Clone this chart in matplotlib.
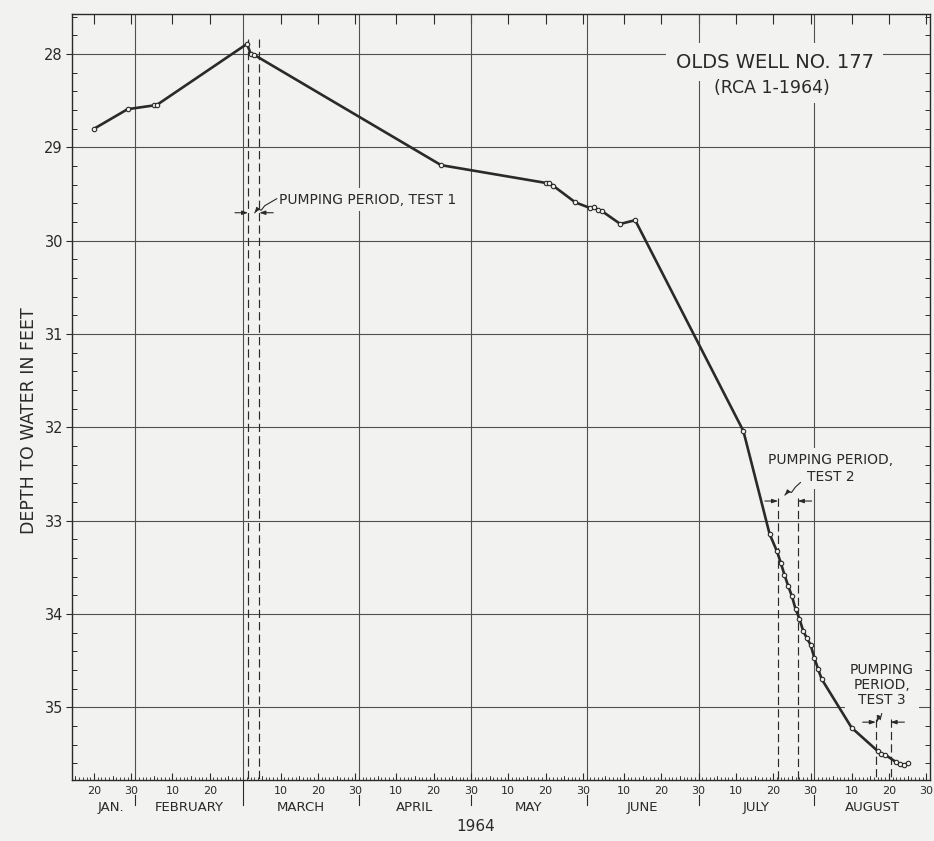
import matplotlib
matplotlib.use("Agg")
import matplotlib.pyplot as plt
import matplotlib.transforms as mtransforms
from matplotlib.lines import Line2D
import numpy as np
import pandas as pd

# ---- water-level record, Olds well no. 177, 1964 ----
obs_dates = [
    "1964-01-20", "1964-01-29", "1964-02-05", "1964-02-06",
    "1964-03-01", "1964-03-02", "1964-03-03",
    "1964-04-22",
    "1964-05-20", "1964-05-21", "1964-05-22", "1964-05-28",
    "1964-06-01", "1964-06-02", "1964-06-03", "1964-06-04", "1964-06-09", "1964-06-13",
    "1964-07-12", "1964-07-19", "1964-07-21", "1964-07-22", "1964-07-23", "1964-07-24",
    "1964-07-25", "1964-07-26", "1964-07-27", "1964-07-28", "1964-07-29", "1964-07-30",
    "1964-07-31",
    "1964-08-01", "1964-08-02", "1964-08-10", "1964-08-17", "1964-08-18", "1964-08-19",
    "1964-08-22", "1964-08-23", "1964-08-24", "1964-08-25",
]
depth_ft = [
    28.80, 28.59, 28.55, 28.54,
    27.89, 28.00, 28.01,
    29.19,
    29.38, 29.38, 29.41, 29.59,
    29.65, 29.64, 29.67, 29.68, 29.82, 29.78,
    32.04, 33.14, 33.33, 33.45, 33.58, 33.70,
    33.81, 33.95, 34.05, 34.18, 34.26, 34.33,
    34.47,
    34.59, 34.70, 35.22, 35.47, 35.50, 35.51,
    35.59, 35.61, 35.62, 35.60,
]

# pumping periods of the three aquifer tests
test_labels = ["PUMPING PERIOD, TEST 1", "PUMPING PERIOD,\nTEST 2", "PUMPING\nPERIOD,\nTEST 3"]
test_start = ["1964-03-01 07:00", "1964-07-21 07:00", "1964-08-16 12:00"]
test_end = ["1964-03-04 07:00", "1964-07-26 14:00", "1964-08-20 10:00"]

month_names = ["JAN.", "FEBRUARY", "MARCH", "APRIL", "MAY", "JUNE", "JULY", "AUGUST"]
month_ends = ["1964-01-31", "1964-02-29", "1964-03-31", "1964-04-30",
              "1964-05-31", "1964-06-30", "1964-07-31", "1964-08-31"]
labelled_days = [10, 20, 30]
depth_ticks = [28, 29, 30, 31, 32, 33, 34, 35]

title = "OLDS WELL NO. 177"
subtitle = "(RCA 1-1964)"
year_label = "1964"
ylabel = "DEPTH TO WATER IN FEET"


def day_of_year(values):
    t = pd.to_datetime(pd.Series(values))
    return (t.dt.dayofyear + t.dt.hour / 24.0 + t.dt.minute / 1440.0).to_numpy(float)


x_obs = day_of_year(obs_dates)
x_start = day_of_year(test_start)
x_end = day_of_year(test_end)
x_month_end = day_of_year(month_ends)

# ---- styling ----
PAPER = "#f2f2f0"
INK = "#2a2a2a"
GRID = "#505050"
FONT = "DejaVu Sans"
plt.rcParams["font.family"] = [FONT]
plt.rcParams["text.color"] = INK

X_LEFT, X_RIGHT = 14.1, 244.0
Y_TOP, Y_BOTTOM = 27.57, 35.78

fig = plt.figure(figsize=(9.34, 8.41), dpi=100, facecolor=PAPER)
ax = fig.add_axes([72 / 934, 1 - 780 / 841, 858 / 934, 766 / 841], facecolor=PAPER)
ax.set_xlim(X_LEFT, X_RIGHT)
ax.set_ylim(Y_BOTTOM, Y_TOP)

for s in ax.spines.values():
    s.set_color(INK)
    s.set_linewidth(1.0)

# grid: whole feet and month ends
for d in depth_ticks:
    ax.axhline(d, color=GRID, lw=0.8, zorder=1)
for xm in x_month_end[:-1]:
    ax.axvline(xm, color=GRID, lw=0.8, zorder=1)

# ---- x axis: day ticks and month names ----
lab_pos, lab_txt = [], []
for m in range(1, 9):
    for d in labelled_days:
        try:
            t = pd.Timestamp(1964, m, d)
        except ValueError:
            continue
        if X_LEFT <= t.dayofyear <= X_RIGHT:
            lab_pos.append(t.dayofyear)
            lab_txt.append(str(d))
ax.set_xticks(lab_pos)
ax.set_xticklabels(lab_txt, fontsize=8, color=INK)
ax.set_xticks(np.arange(15, 245, 1), minor=True)
ax.tick_params(axis="x", which="major", direction="in", length=5, width=0.8,
               pad=4, color=INK)
ax.tick_params(axis="x", which="minor", direction="in", length=2.2, width=0.6,
               color=INK)
# medium ticks every five days
xb = ax.get_xaxis_transform()
for t in pd.date_range("1964-01-15", "1964-08-31", freq="D"):
    if t.day in (5, 15, 25):
        ax.plot([t.dayofyear] * 2, [0, 0.0055], color=INK, lw=0.6, transform=xb,
                clip_on=False, zorder=2)

top = ax.secondary_xaxis("top")
top.set_xticks(lab_pos)
top.tick_params(direction="in", length=7, width=0.8, labeltop=False, color=INK)
top.spines["top"].set_visible(False)

month_lo = np.concatenate([[X_LEFT + 4], x_month_end[:-1]])
month_hi = x_month_end
for name, lo, hi in zip(month_names, month_lo, month_hi):
    ax.text((lo + hi) / 2, -0.0365, name, transform=xb, ha="center", va="center",
            fontsize=9.5, color=INK)
for i, xm in enumerate(x_month_end[:-1]):
    y0 = 0.0 if i == 1 else -0.019
    ax.plot([xm, xm], [y0, -0.032], color=INK, lw=0.8, transform=xb, clip_on=False)

ax.text(0.471, -0.061, year_label, transform=ax.transAxes, ha="center", va="center",
        fontsize=11, color=INK)

# ---- y axis ----
ax.set_yticks(depth_ticks)
ax.set_yticklabels([str(v) for v in depth_ticks], fontsize=10.5, color=INK)
minor_y = np.round(np.arange(27.6, 35.8, 0.2), 1)
ax.set_yticks(minor_y, minor=True)
ax.tick_params(axis="y", which="major", direction="out", length=4.5, width=0.8,
               pad=2, color=INK)
ax.tick_params(axis="y", which="minor", direction="in", length=3.5, width=0.7,
               color=INK)
right = ax.secondary_yaxis("right")
right.set_yticks(minor_y)
right.tick_params(direction="in", length=3.5, width=0.7, labelright=False, color=INK)
right.spines["right"].set_visible(False)
ax.set_ylabel(ylabel, fontsize=12.5, color=INK)
ax.yaxis.set_label_coords(-0.040, 0.469)

# ---- hydrograph ----
ax.plot(x_obs, depth_ft, color=INK, lw=1.9, marker="o", ms=3.2, mfc=PAPER,
        mec=INK, mew=0.8, zorder=6)

# ---- pumping periods ----
arrow_depth = [29.70, 32.79, 35.16]
dash_top = [27.84, 32.76, 35.13]
text_offset_pt = [(18.5, 9.5), (31, 23.5), (-1, 27)]
leader_px = [
    [(1, 0), (4, -4), (7.5, -2.5), (11, -7), (23, -14)],
    [(-3, -6), (0.5, -10), (3.5, -8.5), (7.5, -14), (12.5, -18.5)],
    [(-6, -1), (-4.5, -6), (-3, -2.5), (-1.5, -8.5)],
]
text_align = ["left", "center", "center"]
text_spacing = [1.05, 1.25, 1.1]

fig.canvas.draw()
for i in range(3):
    xs, xe = x_start[i], x_end[i]
    for xv in (xs, xe):
        ax.plot([xv, xv], [dash_top[i], Y_BOTTOM], color=INK, lw=0.85,
                dashes=(7, 3.5), zorder=3)
    yv = arrow_depth[i]
    ax.annotate("", xy=(xs, yv), xytext=(-9.5, 0), textcoords="offset points",
                arrowprops=dict(arrowstyle="-|>,head_length=0.35,head_width=0.12",
                                color=INK, lw=0.8, shrinkA=0, shrinkB=0), zorder=4)
    ax.annotate("", xy=(xe, yv), xytext=(10, 0), textcoords="offset points",
                arrowprops=dict(arrowstyle="-|>,head_length=0.35,head_width=0.12",
                                color=INK, lw=0.8, shrinkA=0, shrinkB=0), zorder=4)
    mid = (xs + xe) / 2
    ox, oy = ax.transData.transform((mid, yv))
    px = [ox + p[0] for p in leader_px[i]]
    py = [oy - p[1] for p in leader_px[i]]
    fig.add_artist(Line2D(px, py, transform=mtransforms.IdentityTransform(),
                          color=INK, lw=0.8, zorder=5))
    ax.annotate("", xy=(px[0], py[0]), xycoords="figure pixels",
                xytext=(px[1], py[1]), textcoords="figure pixels",
                arrowprops=dict(arrowstyle="-|>,head_length=0.3,head_width=0.12",
                                color=INK, lw=0.7, shrinkA=0, shrinkB=0))
    ax.annotate(test_labels[i], xy=(mid, yv), xytext=text_offset_pt[i],
                textcoords="offset points", ha=text_align[i], va="center",
                multialignment="center", fontsize=10, color=INK,
                linespacing=text_spacing[i],
                bbox=dict(boxstyle="square,pad=0.35", fc=PAPER, ec="none"), zorder=4)

# ---- title block ----
ax.text(0.819, 0.937, title, transform=ax.transAxes, ha="center", va="center",
        fontsize=14, color=INK,
        bbox=dict(boxstyle="square,pad=0.5", fc=PAPER, ec="none"), zorder=4)
ax.text(0.816, 0.903, subtitle, transform=ax.transAxes, ha="center", va="center",
        fontsize=12.5, color=INK,
        bbox=dict(boxstyle="square,pad=0.3", fc=PAPER, ec="none"), zorder=4)

fig.savefig("out.png", dpi=100, facecolor=PAPER)
